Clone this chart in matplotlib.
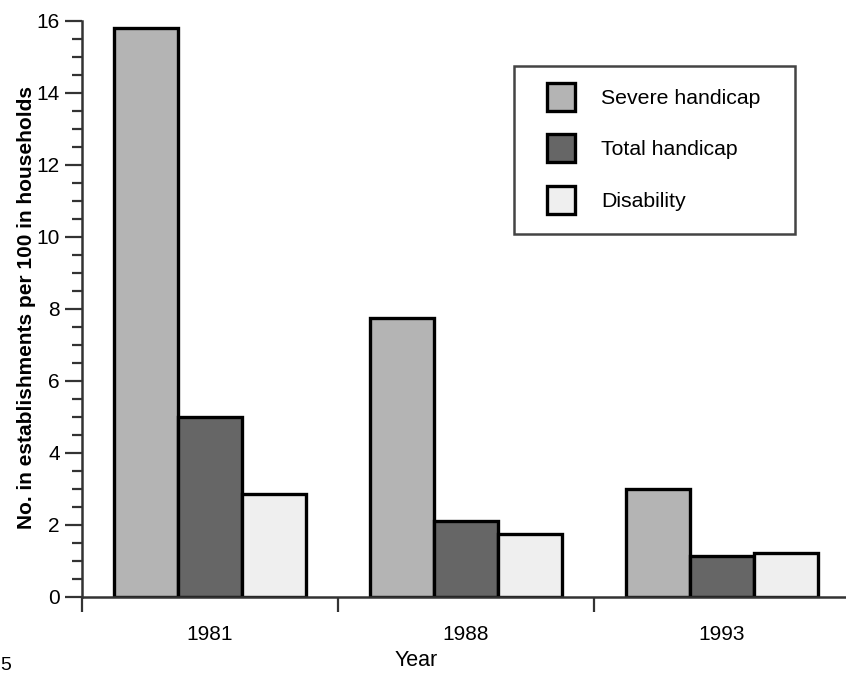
import matplotlib
matplotlib.use("Agg")
import matplotlib.pyplot as plt
from matplotlib.patches import Rectangle
import numpy as np

plt.rcParams['font.family'] = ['Liberation Sans', 'DejaVu Sans']

years = ["1981", "1988", "1993"]
series_names = ["Severe handicap", "Total handicap", "Disability"]
severe = [15.8, 7.75, 3.0]
total = [5.0, 2.1, 1.15]
disability = [2.85, 1.75, 1.22]
colors = ["#b4b4b4", "#666666", "#efefef"]

W, H = 846, 673
fig = plt.figure(figsize=(W/100, H/100), dpi=100)
ax = fig.add_axes([82/W, 1-597/H, 768/W, (597-20.7)/H])

x = np.arange(len(years))
w = 0.25
for i, (vals, name, c) in enumerate(zip([severe, total, disability], series_names, colors)):
    ax.bar(x + (i-1)*w, vals, width=w, color=c, edgecolor="black", linewidth=2.4,
           label=name, zorder=3)

ax.set_xlim(-0.5, 2.5)
ax.set_ylim(0, 16)
ax.set_yticks(np.arange(0, 17, 2))
ax.set_yticks(np.arange(0, 16.01, 0.5), minor=True)
ax.set_xticks(x)
ax.set_xticklabels(years)
ax.set_xticks([-0.5, 0.5, 1.5], minor=True)

for s in ["top", "right"]:
    ax.spines[s].set_visible(False)
for s in ["left", "bottom"]:
    ax.spines[s].set_color("#333333")
    ax.spines[s].set_linewidth(1.8)
    ax.spines[s].set_zorder(4)

ax.tick_params(axis="y", which="major", length=12.5, width=1.6, color="#333333",
               labelsize=15, pad=3.6)
ax.tick_params(axis="y", which="minor", length=7, width=1.6, color="#333333")
ax.tick_params(axis="x", which="major", length=0, labelsize=15, pad=20)
ax.tick_params(axis="x", which="minor", length=11, width=1.6, color="#333333")

ax.set_ylabel("No. in establishments per 100 in households", fontsize=15,
              fontweight="bold")
ax.yaxis.set_label_coords(-0.0599, 0.503)
fig.text(416/W, 1-660/H, "Year", fontsize=15.5, ha="center", va="center")
fig.text(0, 1-665/H, "5", fontsize=14, ha="left", va="center")

# legend frame
frame = Rectangle((514/W, 1-234/H), (795-514)/W, (234-66)/H, transform=fig.transFigure,
                  facecolor="white", edgecolor="#444444", linewidth=1.8, zorder=5,
                  clip_on=False)
ax.add_artist(frame)
leg = ax.legend(loc="upper left", bbox_to_anchor=(547/W, 1-83/H),
                bbox_transform=fig.transFigure, fontsize=15.3, frameon=False,
                handlelength=1.32, handleheight=1.65, handletextpad=1.22,
                labelspacing=1.1, borderpad=0, borderaxespad=0)
leg.set_zorder(6)
for h in leg.legend_handles:
    h.set_linewidth(2.4)

fig.savefig("out.png", dpi=100)
